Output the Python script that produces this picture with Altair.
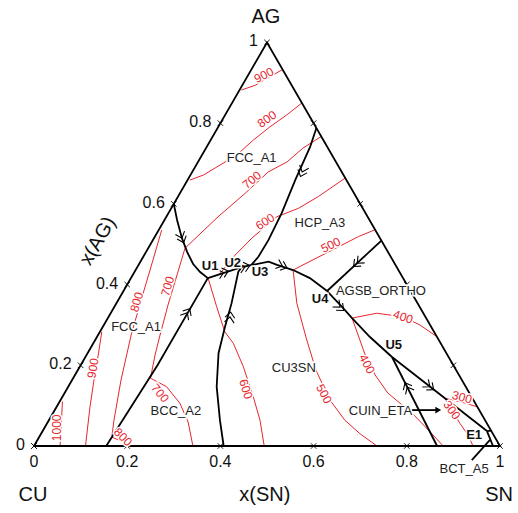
import altair as alt
import pandas as pd
import numpy as np

S3 = np.sqrt(3) / 2

# ---------------- data: compositions (x_SN, x_AG) ----------------
U1 = (0.165, 0.416)
U2 = (0.224, 0.443)
U3 = (0.242, 0.448)
U4 = (0.437, 0.384)
U5 = (0.658, 0.2205)
E1 = (0.9535, 0.037)

frame = [(0, 0), (1, 0), (0, 1), (0, 0)]
fcc_bcc = [(0.155, 0), (0.165, 0.2), U1]
fcc_fcc = [(0, 0.60), (0.027, 0.560), (0.060, 0.515), (0.088, 0.481), (0.116, 0.451), (0.141, 0.431), U1]
u1_u3 = [U1, U2, U3]
bcc_cu3sn = [(0.407, 0), (0.367, 0.064), (0.3185, 0.147), (0.281, 0.23), (0.262, 0.296), (0.247, 0.354), (0.2225, 0.432), U2]
fcc_hcp = [(0.212, 0.788), (0.222, 0.741), (0.231, 0.66), (0.243, 0.577), (0.248, 0.51), (0.247, 0.469), U3]
u3_u4 = [U3, (0.275, 0.457), (0.297, 0.449), (0.338, 0.436), (0.384, 0.416), U4]
u4_u5 = [U4, (0.492, 0.342), (0.524, 0.317), (0.586, 0.270), U5]
u4_edge = [U4, (0.491, 0.509)]
u5_e1 = [U5, E1]
u5_base = [U5, (0.865, 0)]
e1_edge = [E1, (0.962, 0.038)]
e1_base = [E1, (0.985, 0)]

iso_900_ag = [(0.004, 0.882), (0.028, 0.894), (0.049, 0.915), (0.066, 0.932)]
iso_800_ag = [(0.005, 0.659), (0.028, 0.6715), (0.051, 0.696), (0.0745, 0.721), (0.0915, 0.758), (0.111, 0.791), (0.132, 0.820), (0.150, 0.850)]
iso_700_ag = [(0.079, 0.49), (0.111, 0.568), (0.140, 0.626), (0.163, 0.679), (0.191, 0.704), (0.208, 0.738), (0.233, 0.767)]
iso_600_ag = [(0.185, 0.426), (0.195, 0.473), (0.210, 0.515), (0.237, 0.568), (0.273, 0.589), (0.301, 0.618), (0.336, 0.664)]
iso_500_hcp = [(0.339, 0.437), (0.437, 0.519), (0.464, 0.536)]
iso_400_agsb = [(0.524, 0.317), (0.571, 0.329), (0.632, 0.320), (0.678, 0.300), (0.729, 0.271)]
iso_300_agsb = [(0.823, 0.118), (0.859, 0.110), (0.903, 0.097)]
iso_1000_cu = [(0.006, 0.110), (0.027, 0.064), (0.056, 0)]
iso_900_cu = [(0.004, 0.283), (0.026, 0.223), (0.047, 0.1635), (0.0715, 0.0974), (0.1105, 0)]
iso_800_cu = [(0.0065, 0.535), (0.031, 0.436), (0.049, 0.362), (0.071, 0.275), (0.105, 0.1635), (0.1395, 0.0644), (0.156, 0.022)]
iso_800_bcc = [(0.156, 0.022), (0.1805, 0.0124), (0.21, 0)]
iso_700_cu = [(0.079, 0.49), (0.095, 0.424), (0.113, 0.349), (0.133, 0.275), (0.147, 0.2255), (0.166, 0.168)]
iso_700_bcc = [(0.166, 0.168), (0.211, 0.147), (0.260, 0.106), (0.301, 0.0595), (0.341, 0)]
iso_600_cu3sn = [(0.166, 0.4155), (0.2195, 0.345), (0.268, 0.283), (0.3005, 0.2545), (0.351, 0.1965), (0.4095, 0.122), (0.453, 0.064), (0.494, 0)]
iso_500_cu3sn = [(0.338, 0.436), (0.387, 0.354), (0.450, 0.268), (0.511, 0.188), (0.578, 0.114), (0.635, 0.064), (0.685, 0.030), (0.736, 0)]
iso_400_cuin = [(0.524, 0.317), (0.558, 0.275), (0.598, 0.2255), (0.644, 0.176), (0.694, 0.131), (0.774, 0.079), (0.8325, 0.035), (0.878, 0)]
iso_300_cuin = [(0.823, 0.118), (0.886, 0.056), (0.918, 0.027), (0.942, 0)]

iso_label_text = ["900", "800", "700", "600", "500", "500", "600", "400", "400", "300", "300", "1000", "900", "800", "700", "700", "800"]
iso_label_sn = [0.034, 0.095, 0.138, 0.218, 0.388, 0.558, 0.384, 0.632, 0.613, 0.858, 0.852, 0.027, 0.030, 0.042, 0.089, 0.205, 0.180]
iso_label_ag = [0.919, 0.810, 0.659, 0.556, 0.498, 0.129, 0.141, 0.320, 0.203, 0.121, 0.089, 0.045, 0.193, 0.357, 0.396, 0.131, 0.022]
iso_label_angle = [333, 325, 320, 327, 334, 62, 72, 18, 63, 15, 55, 270, 279, 287, 287, 50, 45]

region_text = ["FCC_A1", "FCC_A1", "HCP_A3", "AGSB_ORTHO", "CU3SN", "BCC_A2", "CUIN_ETA", "BCT_A5"]
region_sn = [0.110, 0.072, 0.337, 0.553, 0.461, 0.261, 0.700, 0.951]
region_ag = [0.714, 0.294, 0.553, 0.383, 0.193, 0.087, 0.087, -0.056]

inv_text = ["U1", "U2", "U3", "U4", "U5", "E1"]
inv_sn = [0.155, 0.200, 0.269, 0.432, 0.647, 0.931]
inv_ag = [0.446, 0.453, 0.432, 0.364, 0.250, 0.027]

# arrows on boundary lines: position and a point toward which they point
arrow_pos = [(0.060, 0.515), (0.164, 0.33), (0.2606, 0.320), (0.192, 0.430), (0.231, 0.444), (0.236, 0.679),
             (0.31, 0.446), (0.467, 0.453), (0.4847, 0.344), (0.728, 0.146), (0.776, 0.147)]
arrow_to = [(0.088, 0.481), U1, (0.2474, 0.3536), U2, U3, (0.247, 0.617),
            (0.338, 0.436), U4, (0.524, 0.317), U5, E1]

cuin_arrow = [(0.766, 0.089), (0.823, 0.089)]
bct_leader = [(0.957, -0.035), (0.971, 0.015)]

tick_values = [0, 0.2, 0.4, 0.6, 0.8, 1]
tick_labels = ["0", "0.2", "0.4", "0.6", "0.8", "1"]

corner_text = ["CU", "SN", "AG", "x(SN)", "x(AG)"]
corner_sn = [0.0586, 1.0586, -0.034, 0.556, -0.117]
corner_ag = [-0.1214, -0.1214, 1.063, -0.1214, 0.508]
corner_angle = [0, 0, 0, 0, 300]

# ---------------- helpers ----------------
def xy(df):
    df = df.copy()
    df["X"] = df["sn"] + df["ag"] / 2
    df["Y"] = df["ag"] * S3
    return df

def curves(named):
    rows = []
    for name, pts in named.items():
        for i, (s, a) in enumerate(pts):
            rows.append({"curve": name, "i": i, "sn": s, "ag": a})
    return xy(pd.DataFrame(rows))

black = curves({
    "frame": frame, "fcc_bcc": fcc_bcc, "fcc_fcc": fcc_fcc, "u1_u3": u1_u3, "bcc_cu3sn": bcc_cu3sn,
    "fcc_hcp": fcc_hcp, "u3_u4": u3_u4, "u4_u5": u4_u5, "u4_edge": u4_edge, "u5_e1": u5_e1,
    "u5_base": u5_base, "e1_edge": e1_edge, "e1_base": e1_base,
    "cuin_arrow": cuin_arrow, "bct_leader": bct_leader,
})
red = curves({
    "900a": iso_900_ag, "800a": iso_800_ag, "700a": iso_700_ag, "600a": iso_600_ag, "500h": iso_500_hcp,
    "400g": iso_400_agsb, "300g": iso_300_agsb, "1000c": iso_1000_cu, "900c": iso_900_cu, "800c": iso_800_cu,
    "800b": iso_800_bcc, "700c": iso_700_cu, "700b": iso_700_bcc, "600e": iso_600_cu3sn, "500e": iso_500_cu3sn,
    "400n": iso_400_cuin, "300n": iso_300_cuin,
})

iso_labels = xy(pd.DataFrame({"t": iso_label_text, "sn": iso_label_sn, "ag": iso_label_ag, "angle": iso_label_angle}))
regions = xy(pd.DataFrame({"t": region_text, "sn": region_sn, "ag": region_ag}))
invs = xy(pd.DataFrame({"t": inv_text, "sn": inv_sn, "ag": inv_ag}))

arr = xy(pd.DataFrame({"sn": [p[0] for p in arrow_pos], "ag": [p[1] for p in arrow_pos]}))
arr_to = xy(pd.DataFrame({"sn": [p[0] for p in arrow_to], "ag": [p[1] for p in arrow_to]}))
arr["angle"] = (np.degrees(np.arctan2(-(arr_to["Y"] - arr["Y"]), arr_to["X"] - arr["X"])) + 360) % 360

head = xy(pd.DataFrame({"sn": [cuin_arrow[1][0]], "ag": [cuin_arrow[1][1]]}))

bottom_ticks = xy(pd.DataFrame({"sn": tick_values, "ag": [0] * 6, "t": tick_labels}))
left_ticks = xy(pd.DataFrame({"sn": [0] * 6, "ag": tick_values, "t": tick_labels}))
right_ticks = xy(pd.DataFrame({"sn": [1 - v for v in tick_values[1:-1]], "ag": tick_values[1:-1]}))
all_ticks = pd.concat([bottom_ticks, left_ticks, right_ticks], ignore_index=True)

corners = xy(pd.DataFrame({"t": corner_text, "sn": corner_sn, "ag": corner_ag, "angle": corner_angle}))

# ---------------- scales ----------------
W, H = 518, 513
PX, X0, Y0 = 466, 34, 446
xscale = alt.Scale(domain=[-X0 / PX, (W - X0) / PX], range=[0, W], nice=False, zero=False)
yscale = alt.Scale(domain=[-(H - Y0) / PX, Y0 / PX], range=[H, 0], nice=False, zero=False)
X = alt.X("X:Q", scale=xscale, axis=None)
Y = alt.Y("Y:Q", scale=yscale, axis=None)

FONT = "Liberation Sans"
RED = "#e5262e"

red_lines = alt.Chart(red).mark_line(color=RED, strokeWidth=1).encode(
    x=X, y=Y, detail="curve:N", order="i:Q")
black_lines = alt.Chart(black).mark_line(color="black", strokeWidth=1.8).encode(
    x=X, y=Y, detail="curve:N", order="i:Q")

chevron = "M-1,-0.85L0,0L-1,0.85M-0.15,-0.85L0.85,0L-0.15,0.85"
arrows = alt.Chart(arr).mark_point(shape=chevron, filled=False, color="black", strokeWidth=1.1, size=130, opacity=1).encode(
    x=X, y=Y, angle=alt.Angle("angle:Q", scale=None))
arrowhead = alt.Chart(head).mark_point(shape="triangle-right", filled=True, color="black", size=45, opacity=1).encode(x=X, y=Y)

ticks = alt.Chart(all_ticks).mark_point(shape="M-1,-1L1,1M-1,1L1,-1", filled=False, color="black", strokeWidth=0.9, size=30, opacity=1).encode(x=X, y=Y)

iso_halo = alt.Chart(iso_labels).mark_text(font=FONT, fontSize=12, color="white", stroke="white", strokeWidth=3).encode(
    x=X, y=Y, text="t:N", angle=alt.Angle("angle:Q", scale=None))
iso_text = alt.Chart(iso_labels).mark_text(font=FONT, fontSize=12, color=RED).encode(
    x=X, y=Y, text="t:N", angle=alt.Angle("angle:Q", scale=None))

region_halo = alt.Chart(regions).mark_text(font=FONT, fontSize=13, color="white", stroke="white", strokeWidth=3).encode(x=X, y=Y, text="t:N")
region_lbl = alt.Chart(regions).mark_text(font=FONT, fontSize=13, color="#222222").encode(x=X, y=Y, text="t:N")
inv_halo = alt.Chart(invs).mark_text(font=FONT, fontSize=13, fontWeight="bold", color="white", stroke="white", strokeWidth=3).encode(x=X, y=Y, text="t:N")
inv_lbl = alt.Chart(invs).mark_text(font=FONT, fontSize=13, fontWeight="bold", color="#111111").encode(x=X, y=Y, text="t:N")

bottom_lbl = alt.Chart(bottom_ticks).mark_text(font=FONT, fontSize=16, color="#111111", dy=16).encode(x=X, y=Y, text="t:N")
left_lbl = alt.Chart(left_ticks).mark_text(font=FONT, fontSize=16, color="#111111", align="right", dx=-9, dy=-1).encode(x=X, y=Y, text="t:N")
corner_lbl = alt.Chart(corners).mark_text(font=FONT, fontSize=20, color="#111111").encode(
    x=X, y=Y, text="t:N", angle=alt.Angle("angle:Q", scale=None))

chart = alt.layer(
    red_lines, black_lines, arrows, arrowhead, ticks,
    iso_halo, iso_text, region_halo, region_lbl, inv_halo, inv_lbl,
    bottom_lbl, left_lbl, corner_lbl,
).properties(
    width=W, height=H, autosize=alt.AutoSizeParams(type="none"), padding=0, background="white"
).configure_view(stroke=None)

chart.save("out.html", embed_options={"renderer": "svg", "actions": False})
